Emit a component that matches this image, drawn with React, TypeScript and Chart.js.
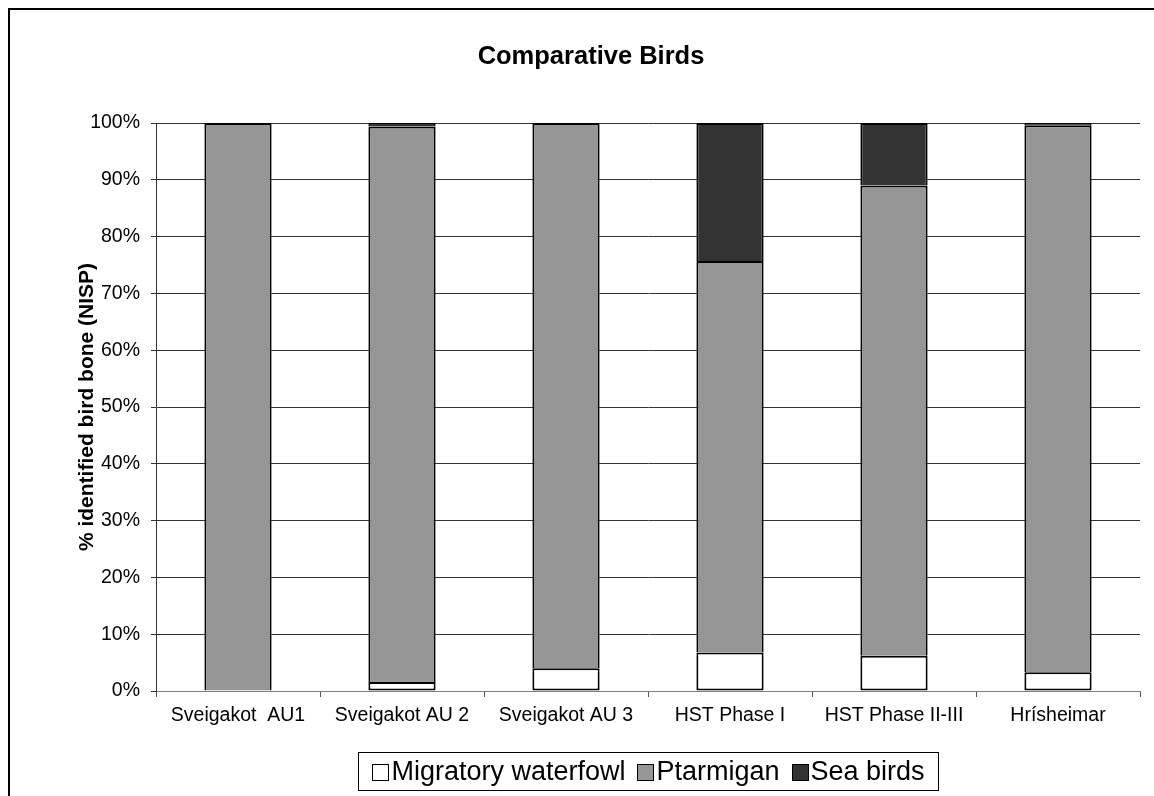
import React, { useEffect, useRef } from "react";
import { Chart, registerables } from "chart.js";

Chart.register(...registerables);

const categories = [
  "Sveigakot  AU1",
  "Sveigakot AU 2",
  "Sveigakot AU 3",
  "HST Phase I",
  "HST Phase II-III",
  "Hrísheimar",
];
const seriesNames = ["Migratory waterfowl", "Ptarmigan", "Sea birds"];
const waterfowl = [0, 1.6, 4.0, 6.8, 6.2, 3.3];
const ptarmigan = [100, 97.8, 96.0, 68.9, 82.8, 96.3];
const seaBirds = [0, 0.6, 0, 24.3, 11.0, 0.4];
const seriesColors = ["#ffffff", "#969696", "#333333"];
const yTickStep = 10;
const chartTitle = "Comparative Birds";
const yAxisTitle = "% identified bird bone (NISP)";

const FONT = "'Liberation Sans', Arial, sans-serif";

const titlePlugin = {
  id: "excelTitle",
  afterDraw(chart: any) {
    const ctx = chart.ctx;
    ctx.save();
    ctx.font = `bold 25.5px ${FONT}`;
    ctx.fillStyle = "#000";
    ctx.textAlign = "center";
    ctx.textBaseline = "middle";
    ctx.fillText(chartTitle, 591, 57);
    ctx.restore();
  },
};

const legendPlugin = {
  id: "excelLegend",
  afterDraw(chart: any) {
    const ctx = chart.ctx;
    ctx.save();
    ctx.font = `27px ${FONT}`;
    const box = 16;
    const gapText = 3;
    const gapItem = 12;
    const widths = seriesNames.map((n) => ctx.measureText(n).width);
    const content =
      widths.reduce((a, w) => a + box + gapText + w, 0) + gapItem * (widths.length - 1);
    const left = 358.5;
    const width = 580;
    const top = 752.5;
    const h = 38;
    ctx.strokeStyle = "#000";
    ctx.lineWidth = 1;
    ctx.fillStyle = "#fff";
    ctx.fillRect(left, top, width, h);
    ctx.strokeRect(left, top, width, h);
    let x = left + (width - content) / 2;
    const cy = top + h / 2;
    seriesNames.forEach((n, i) => {
      const bx = Math.round(x) + 0.5;
      const by = Math.round(cy - box / 2) + 0.5;
      ctx.fillStyle = seriesColors[i];
      ctx.fillRect(bx, by, box, box);
      ctx.strokeStyle = "#000";
      ctx.strokeRect(bx, by, box, box);
      x += box + gapText;
      ctx.fillStyle = "#000";
      ctx.textAlign = "left";
      ctx.textBaseline = "middle";
      ctx.fillText(n, x, cy + 1);
      x += widths[i] + gapItem;
    });
    ctx.restore();
  },
};

export default function App() {
  const ref = useRef<HTMLCanvasElement | null>(null);

  useEffect(() => {
    if (!ref.current) return;
    const values = [waterfowl, ptarmigan, seaBirds];
    const chart = new Chart(ref.current, {
      type: "bar",
      data: {
        labels: categories,
        datasets: seriesNames.map((name, i) => ({
          label: name,
          data: values[i],
          backgroundColor: seriesColors[i],
          borderColor: "#000000",
          borderWidth: 2,
          borderSkipped: i === 0 ? false : "start",
          barPercentage: 0.41,
          categoryPercentage: 1,
        })),
      },
      options: {
        animation: false,
        responsive: false,
        maintainAspectRatio: false,
        events: [],
        layout: { padding: { top: 123, left: 8, right: 14, bottom: 0 } },
        plugins: {
          legend: { display: false },
          title: { display: false },
          tooltip: { enabled: false },
        },
        scales: {
          x: {
            stacked: true,
            grid: {
              display: true,
              drawOnChartArea: false,
              drawTicks: true,
              tickLength: 6,
              color: "#555555",
              offset: true,
            },
            border: { display: true, color: "#808080", width: 1 },
            ticks: {
              font: { family: FONT, size: 19.5 },
              color: "#000",
              padding: 7,
              maxRotation: 0,
              autoSkip: false,
            },
            afterFit: (s: any) => {
              s.height = 105;
            },
          },
          y: {
            stacked: true,
            min: 0,
            max: 100,
            ticks: {
              stepSize: yTickStep,
              callback: (v: any) => v + "%",
              font: { family: FONT, size: 19.5 },
              color: "#000",
              padding: 11,
            },
            grid: { color: "#333333", tickLength: 5, drawTicks: true, lineWidth: 1 },
            border: { display: true, color: "#333333", width: 1 },
            title: {
              display: true,
              text: yAxisTitle,
              font: { family: FONT, size: 21, weight: "bold" },
              color: "#000",
              padding: { top: 67, bottom: 0 },
            },
            afterFit: (s: any) => {
              s.width = 148;
            },
          },
        },
      },
      plugins: [titlePlugin, legendPlugin],
    });
    return () => chart.destroy();
  }, []);

  return (
    <div>
      <canvas
        ref={ref}
        width={1154}
        height={796}
        style={{ position: "fixed", left: 0, top: 0, width: 1154, height: 796, display: "block" }}
      />
      <div
        style={{
          position: "fixed",
          left: 8,
          top: 8,
          width: 1200,
          height: 900,
          border: "2px solid #000",
          pointerEvents: "none",
        }}
      />
    </div>
  );
}
